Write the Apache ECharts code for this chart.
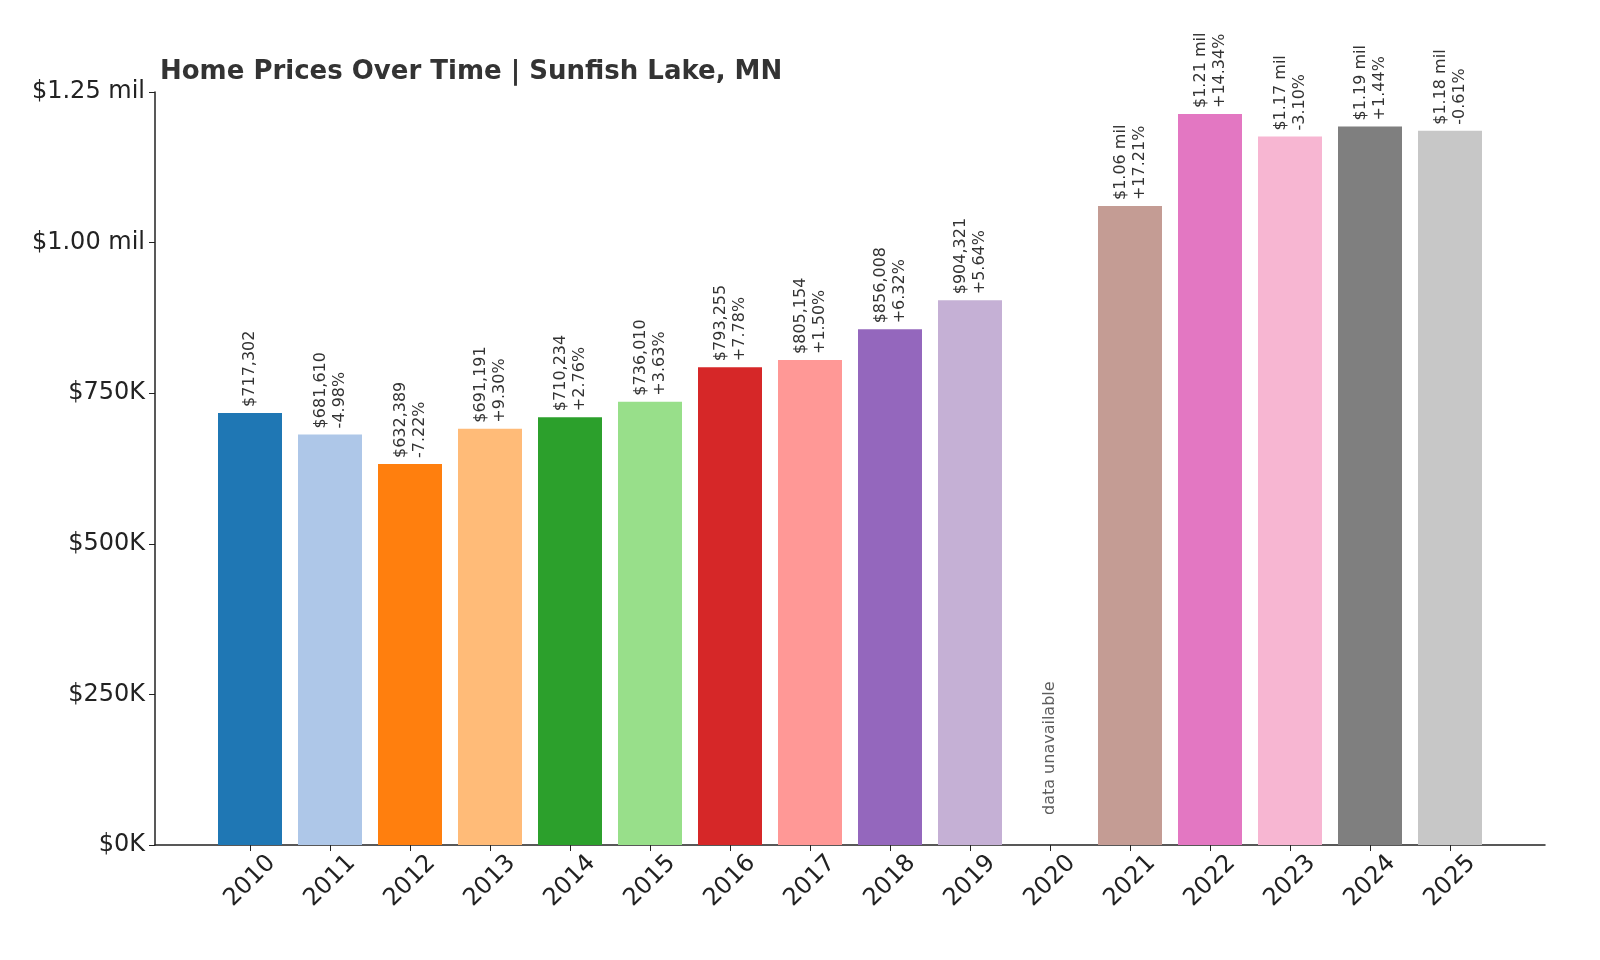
<!DOCTYPE html>
<html>
<head>
<meta charset="utf-8">
<script src="https://cdn.jsdelivr.net/npm/echarts@6/dist/echarts.min.js"></script>
<style>html,body{margin:0;padding:0;background:#fff}#chart{width:1600px;height:960px}</style>
</head>
<body>
<div id="chart"></div>
<script>
var years = ['2010','2011','2012','2013','2014','2015','2016','2017','2018','2019','2020','2021','2022','2023','2024','2025'];
var prices = [717302, 681610, 632389, 691191, 710234, 736010, 793255, 805154, 856008, 904321, null, 1060700, 1213500, 1176000, 1192900, 1185600];
var priceLabels = ['$717,302','$681,610','$632,389','$691,191','$710,234','$736,010','$793,255','$805,154','$856,008','$904,321','','$1.06 mil','$1.21 mil','$1.17 mil','$1.19 mil','$1.18 mil'];
var changes = ['','-4.98%','-7.22%','+9.30%','+2.76%','+3.63%','+7.78%','+1.50%','+6.32%','+5.64%','','+17.21%','+14.34%','-3.10%','+1.44%','-0.61%'];
var colors = ['#1f77b4','#aec7e8','#ff7f0e','#ffbb78','#2ca02c','#98df8a','#d62728','#ff9896','#9467bd','#c5b0d5','#8c564b','#c49c94','#e377c2','#f7b6d2','#7f7f7f','#c7c7c7'];
var yTicks = ['$0K','$250K','$500K','$750K','$1.00 mil','$1.25 mil'];

var chart = echarts.init(document.getElementById('chart'));
var font = 'DejaVu Sans';

var barData = prices.map(function (v, i) {
    return {
        value: v,
        itemStyle: {color: colors[i]},
        label: {formatter: changes[i] ? priceLabels[i] + '\n' + changes[i] : priceLabels[i]}
    };
});
var naData = prices.map(function (v) { return v === null ? 0 : null; });

var option = {
    backgroundColor: '#fff',
    animation: false,
    title: {
        text: 'Home Prices Over Time | Sunfish Lake, MN',
        left: 155, top: 54,
        textStyle: {fontFamily: font, fontSize: 26, fontWeight: 'bold', color: '#333'}
    },
    grid: [
        {left: 210, width: 1280, top: 92, bottom: 115},
        {left: 155, right: 55, top: 92, bottom: 115}
    ],
    xAxis: [
        {
            type: 'category', gridIndex: 0, data: years,
            axisLine: {show: false},
            axisTick: {show: true, alignWithLabel: true, length: 6, lineStyle: {color: '#222'}},
            axisLabel: {rotate: 45, align: 'center', verticalAlign: 'middle', fontFamily: font, fontSize: 24, color: '#222', margin: 36}
        },
        {
            type: 'value', gridIndex: 1, min: 0, max: 1,
            axisLine: {show: true, lineStyle: {color: '#222', width: 1.5}},
            axisTick: {show: false}, axisLabel: {show: false}, splitLine: {show: false}
        }
    ],
    yAxis: [
        {type: 'value', gridIndex: 0, min: 0, max: 1250000, interval: 250000, show: false},
        {
            type: 'value', gridIndex: 1, min: 0, max: 1250000, interval: 250000,
            axisLine: {show: true, lineStyle: {color: '#222', width: 1.5}},
            axisTick: {show: true, length: 6, lineStyle: {color: '#222'}},
            splitLine: {show: false},
            axisLabel: {
                fontFamily: font, fontSize: 24, color: '#222', margin: 10,
                formatter: function (v) { return yTicks[Math.round(v / 250000)]; }
            }
        }
    ],
    series: [
        {
            type: 'bar', xAxisIndex: 0, yAxisIndex: 0, data: barData, barWidth: 64,
            label: {
                show: true, position: 'top', rotate: 90, align: 'left', verticalAlign: 'middle',
                distance: 6, fontFamily: font, fontSize: 16, color: '#333', lineHeight: 19
            }
        },
        {
            type: 'scatter', xAxisIndex: 0, yAxisIndex: 0, data: naData, symbolSize: 0,
            label: {
                show: true, position: 'top', rotate: 90, align: 'left', verticalAlign: 'middle',
                distance: 30, formatter: 'data unavailable', fontFamily: font, fontSize: 16, color: '#333'
            }
        }
    ]
};
chart.setOption(option);
</script>
</body>
</html>
